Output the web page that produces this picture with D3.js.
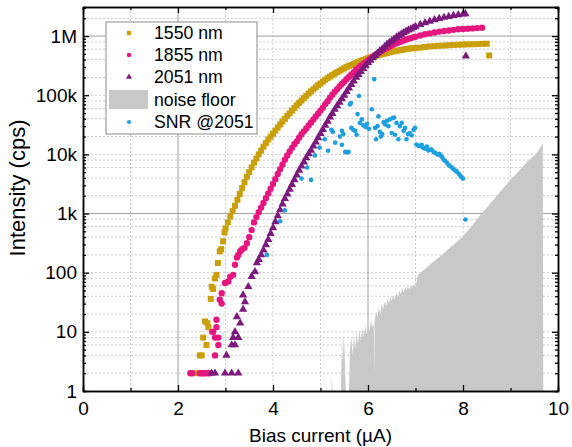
<!DOCTYPE html>
<html>
<head>
<meta charset="utf-8">
<script src="https://cdn.jsdelivr.net/npm/d3@7"></script>
<style>
  body { margin: 0; background: #fff; }
  text { font-family: Arial, "Liberation Sans", sans-serif; fill: #000; }
</style>
</head>
<body>
<svg width="572" height="447"></svg>
<script>
// axis ticks and labels
var xTicks = [0, 2, 4, 6, 8, 10];
var xMinorTicks = [1, 3, 5, 7, 9];
var yTicks = [1, 10, 100, 1e3, 1e4, 1e5, 1e6];
var yTickLabels = ["1", "10", "100", "1k", "10k", "100k", "1M"];
var legendNames = ["1550 nm", "1855 nm", "2051 nm", "noise floor", "SNR @2051"];

// [bias current (uA), intensity (cps)]
var nm1550 = [[2.39,2],[2.46,4],[2.50,4],[2.53,8],[2.57,15],[2.60,6],[2.62,14],[2.64,12],[2.69,36],[2.71,58],[2.74,53],[2.78,80],[2.81,92],[2.84,146],[2.88,230],[2.91,250],[2.95,340],[2.98,480],
  [3.00,562],[3.05,708],[3.10,891],[3.15,1100],[3.20,1350],[3.25,1700],[3.30,2140],[3.35,2690],[3.40,3390],[3.45,4170],[3.50,5010],[3.55,6030],[3.60,7240],[3.65,8510],[3.70,10000],[3.75,11600],[3.80,13500],[3.85,15500],[3.90,17800],[3.95,20000],
  [4.00,22400],[4.05,25100],[4.10,28500],[4.15,32000],[4.20,35900],[4.25,39800],[4.30,44700],[4.35,49500],[4.40,55000],[4.45,61000],[4.50,67600],[4.55,74100],[4.60,81300],[4.65,89100],[4.70,97700],[4.75,107000],[4.80,116000],[4.85,126000],[4.90,136000],[4.95,148000],
  [5.00,158000],[5.05,170000],[5.10,182000],[5.15,195000],[5.20,207000],[5.25,219000],[5.30,232000],[5.35,245000],[5.40,257000],[5.45,272000],[5.50,285000],[5.55,299000],[5.60,313000],[5.65,324000],[5.70,339000],[5.75,355000],[5.80,367000],[5.85,380000],[5.90,394000],[5.95,407000],
  [6.00,422000],[6.05,437000],[6.10,447000],[6.15,457000],[6.20,473000],[6.25,484000],[6.30,496000],[6.35,507000],[6.40,519000],[6.45,531000],[6.50,543000],[6.55,553000],[6.60,562000],[6.65,573000],[6.70,582000],[6.75,592000],[6.80,603000],[6.85,610000],[6.90,617000],[6.95,624000],
  [7.00,631000],[7.10,638000],[7.20,653000],[7.30,668000],[7.40,676000],[7.50,685000],[7.60,692000],[7.70,700000],[7.80,708000],[7.90,714000],[8.00,720000],[8.10,724000],[8.20,728000],[8.30,732000],[8.40,738000],[8.50,742000],[8.55,470000]];

var nm1855 = [[2.26,2],[2.30,2],[2.46,2],[2.50,2],[2.53,2],[2.57,2],[2.62,2],[2.67,2],[2.72,10],[2.74,10],[2.78,4],[2.78,8],[2.81,12],[2.81,16],[2.85,6],[2.85,8],[2.88,35],[2.92,30],[2.92,45],[2.99,67],[3.06,71],[3.10,85],[3.16,92],[3.20,136],[3.24,180],[3.27,200],[3.31,230],[3.35,250],
  [3.40,263],[3.45,316],[3.50,398],[3.55,525],[3.60,708],[3.65,871],[3.70,1050],[3.75,1260],[3.80,1510],[3.85,1820],[3.90,2190],[3.95,2630],
  [4.00,3160],[4.05,3800],[4.10,4680],[4.15,5620],[4.20,6760],[4.25,8130],[4.30,9550],[4.35,11200],[4.40,12900],[4.45,14800],[4.50,16600],[4.55,19100],[4.60,21900],[4.65,24500],[4.70,27500],[4.75,30900],[4.80,34700],[4.85,38900],[4.90,43700],[4.95,49000],
  [5.00,55000],[5.05,61700],[5.10,70800],[5.15,79400],[5.20,91200],[5.25,102000],[5.30,115000],[5.35,126000],[5.40,141000],[5.45,155000],[5.50,170000],[5.55,186000],[5.60,204000],[5.65,224000],[5.70,245000],[5.75,269000],[5.80,288000],[5.85,316000],[5.90,339000],[5.95,363000],
  [6.00,389000],[6.05,417000],[6.10,447000],[6.15,479000],[6.20,507000],[6.25,537000],[6.30,569000],[6.35,603000],[6.40,631000],[6.45,661000],[6.50,692000],[6.55,724000],[6.60,759000],[6.65,785000],[6.70,813000],[6.75,841000],[6.80,871000],[6.85,898000],[6.90,925000],[6.95,951000],
  [7.00,977000],[7.10,1023000],[7.20,1072000],[7.30,1109000],[7.40,1148000],[7.50,1189000],[7.60,1216000],[7.70,1245000],[7.80,1274000],[7.90,1303000],[8.00,1318000],[8.10,1334000],[8.20,1349000],[8.30,1365000],[8.40,1380000]];

var nm2051 = [[2.71,2],[2.78,2],[2.99,2],[3.13,2],[3.27,2],[3.02,4],[3.13,6],[3.20,6],[3.16,8],[3.27,8],[3.20,10],[3.31,14],[3.24,18],[3.37,24],[3.41,32],[3.37,42],[3.48,58],[3.55,86],[3.62,104],[3.66,146],
  [3.70,166],[3.75,200],[3.80,240],[3.85,295],[3.90,363],[3.95,457],
  [4.00,575],[4.05,724],[4.10,912],[4.15,1150],[4.20,1450],[4.25,1780],[4.30,2140],[4.35,2570],[4.40,3090],[4.45,3720],[4.50,4470],[4.55,5370],[4.60,6310],[4.65,7410],[4.70,8710],[4.75,10200],[4.80,11700],[4.85,13800],[4.90,16200],[4.95,19100],
  [5.00,22400],[5.05,26300],[5.10,30900],[5.15,36300],[5.20,42700],[5.25,49000],[5.30,57500],[5.35,66100],[5.40,75900],[5.45,87100],[5.50,100000],[5.55,115000],[5.60,132000],[5.65,151000],[5.70,174000],[5.75,200000],[5.80,224000],[5.85,251000],[5.90,282000],[5.95,316000],
  [6.00,355000],[6.05,389000],[6.10,427000],[6.15,468000],[6.20,513000],[6.25,562000],[6.30,603000],[6.35,661000],[6.40,724000],[6.45,776000],[6.50,832000],[6.55,891000],[6.60,955000],[6.65,1023000],[6.70,1072000],[6.75,1148000],[6.80,1202000],[6.85,1259000],[6.90,1318000],[6.95,1380000],
  [7.00,1445000],[7.10,1567000],[7.20,1679000],[7.30,1778000],[7.40,1884000],[7.50,1972000],[7.60,2065000],[7.70,2138000],[7.80,2213000],[7.90,2291000],[8.00,2344000],[8.05,2371000],[8.06,460000]];

var snr2051 = [[3.87,200],[4.15,740],[4.25,1130],[4.60,3900],[4.80,3700],[4.72,6000],[4.88,9600],[4.98,13000],[5.09,18000],[5.16,11500],[5.23,26000],[5.26,24000],[5.31,15800],[5.41,20000],[5.45,25000],[5.48,22000],[5.45,14500],[5.52,11000],[5.56,10800],[5.59,11000],
  [5.62,70000],[5.64,74000],[5.65,28000],[5.69,26000],[5.73,25000],[5.76,21500],[5.78,48000],[5.81,97000],[5.83,34000],[5.87,39000],[5.90,31000],[5.95,29000],[5.98,33000],[6.02,27000],[6.08,58000],[6.13,187000],[6.15,28000],[6.17,18000],[6.20,30000],[6.22,44000],
  [6.25,24000],[6.27,20000],[6.30,22000],[6.33,35000],[6.36,32000],[6.40,37000],[6.43,30000],[6.46,39000],[6.50,23000],[6.52,41000],[6.55,42000],[6.57,21500],[6.60,34000],[6.64,18000],[6.67,30000],[6.71,34000],[6.75,25000],[6.78,28000],[6.81,18000],[6.84,22000],
  [6.88,23000],[6.92,21000],[6.96,26000],[6.99,28000],[7.02,14700],[7.06,14000],[7.09,13700],[7.13,14500],[7.16,13000],[7.20,12500],[7.24,13500],[7.27,11600],[7.31,12000],[7.34,12000],[7.38,11000],[7.42,10500],[7.46,10000],[7.50,10200],[7.53,9500],[7.56,9000],
  [7.59,8200],[7.62,7800],[7.66,7200],[7.70,6600],[7.73,6300],[7.77,6000],[7.80,5600],[7.84,5300],[7.87,5100],[7.91,4700],[7.94,4400],[7.97,4100],[8.00,3900],[8.05,790]];

var noiseFloor = [[5.20,1],[5.23,1],[5.24,2],[5.25,1],[5.43,1],[5.45,8],[5.47,3],[5.49,10],[5.51,4],[5.53,1],[5.60,1],[5.62,5],[5.65,8],[5.68,4],[5.70,9],[5.73,5],[5.76,10],[5.79,6],[5.82,11],[5.85,7],[5.88,12],[5.91,8],[5.94,13],[5.97,9],
  [6.00,14],[6.03,10],[6.06,16],[6.09,12],[6.12,14],[6.13,2],[6.14,15],[6.17,22],[6.20,18],[6.23,26],[6.26,20],[6.29,30],[6.32,24],[6.35,33],[6.38,27],[6.41,36],[6.44,30],[6.47,40],[6.50,33],[6.53,42],[6.56,36],[6.60,46],[6.63,38],[6.66,50],[6.69,43],[6.72,55],
  [6.75,46],[6.78,58],[6.81,50],[6.84,60],[6.87,52],[6.90,62],[6.93,55],[6.96,64],[7.00,58],[7.03,75],[7.05,92],[7.10,98],[7.15,108],[7.20,115],[7.25,125],[7.30,135],[7.35,148],[7.40,158],[7.45,170],[7.50,185],[7.55,200],[7.60,218],[7.65,236],[7.70,256],
  [7.75,276],[7.80,298],[7.85,322],[7.90,350],[7.95,380],[8.00,410],[8.05,460],[8.10,510],[8.15,570],[8.20,640],[8.25,720],[8.30,810],[8.35,910],[8.40,1020],[8.45,1130],[8.50,1250],[8.55,1400],[8.60,1560],[8.65,1740],[8.70,1950],[8.75,2180],[8.80,2430],
  [8.85,2700],[8.90,3000],[8.95,3300],[9.00,3650],[9.05,4050],[9.10,4500],[9.15,5000],[9.20,5550],[9.25,6100],[9.30,6700],[9.35,7400],[9.40,8100],[9.45,8800],[9.50,9500],[9.55,10600],[9.60,12000],[9.65,13800],[9.68,15700],[9.69,1]];

var svg = d3.select("svg"),
  margin = {top: 7, right: 14, bottom: 56, left: 83},
  width = +svg.attr("width") - margin.left - margin.right,
  height = +svg.attr("height") - margin.top - margin.bottom;

var x = d3.scaleLinear().domain([0, 10]).range([0, width]),
  y = d3.scaleLog().domain([1, 3.1e6]).range([height, 0]);

var g = svg.append("g")
  .attr("transform", "translate(" + margin.left + "," + margin.top + ")");

// minor log values for ticks and grid
var yMinor = [], yGridMinor = [];
d3.range(0, 7).forEach(function(p) {
  d3.range(2, 10).forEach(function(k) {
    var v = k * Math.pow(10, p);
    if (v < 3.1e6) yMinor.push(v);
    if (v < 3.1e6 && k % 2 === 0) yGridMinor.push(v);
  });
});

// grid
var dotted = yGridMinor.concat([10, 100, 1e4, 1e5]);
g.append("g").selectAll("line")
  .data(dotted)
  .enter().append("line")
  .attr("x1", 0).attr("x2", width)
  .attr("y1", function(d) { return y(d); })
  .attr("y2", function(d) { return y(d); })
  .attr("stroke", "#bdbdbd").attr("stroke-width", 0.8)
  .attr("stroke-dasharray", "2,2");

g.append("g").selectAll("line")
  .data([1, 3, 4, 5, 7, 8, 9])
  .enter().append("line")
  .attr("x1", function(d) { return x(d); })
  .attr("x2", function(d) { return x(d); })
  .attr("y1", 0).attr("y2", height)
  .attr("stroke", "#bdbdbd").attr("stroke-width", 0.8)
  .attr("stroke-dasharray", "2,2");

g.append("g").selectAll("line")
  .data([1e3, 1e6])
  .enter().append("line")
  .attr("x1", 0).attr("x2", width)
  .attr("y1", function(d) { return y(d); })
  .attr("y2", function(d) { return y(d); })
  .attr("stroke", "#a0a0a0").attr("stroke-width", 1);

g.append("g").selectAll("line")
  .data([2, 6])
  .enter().append("line")
  .attr("x1", function(d) { return x(d); })
  .attr("x2", function(d) { return x(d); })
  .attr("y1", 0).attr("y2", height)
  .attr("stroke", "#a0a0a0").attr("stroke-width", 1);

// noise floor
var area = d3.area()
  .x(function(d) { return x(d[0]); })
  .y0(height)
  .y1(function(d) { return y(Math.max(d[1], 1)); });

g.append("path")
  .datum(noiseFloor)
  .attr("fill", "#c8c8c8")
  .attr("d", area);

// scatter series
var series = [
  {data: nm1550, color: "#c9a00c", sym: d3.symbolSquare, size: 36},
  {data: nm1855, color: "#e5177f", sym: d3.symbolCircle, size: 32},
  {data: nm2051, color: "#7a1a7c", sym: d3.symbolTriangle, size: 30},
  {data: snr2051, color: "#1ea0e0", sym: d3.symbolCircle, size: 17}
];

series.forEach(function(s) {
  g.append("g").selectAll("path")
    .data(s.data)
    .enter().append("path")
    .attr("transform", function(d) {
      return "translate(" + x(d[0]) + "," + y(d[1]) + ")";
    })
    .attr("d", d3.symbol().type(s.sym).size(s.size))
    .attr("fill", s.color);
});

// axes
function styleAxis(sel) {
  sel.selectAll("path.domain").attr("stroke", "#000").attr("stroke-width", 1.5);
  sel.selectAll("line").attr("stroke", "#000").attr("stroke-width", 1.3);
  sel.selectAll("text").attr("font-size", 19).attr("font-family", "Arial, 'Liberation Sans', sans-serif");
}

g.append("g")
  .attr("transform", "translate(0," + height + ")")
  .call(d3.axisBottom(x).tickValues(xMinorTicks).tickSize(-3).tickFormat(""))
  .call(styleAxis);
g.append("g")
  .attr("transform", "translate(0," + height + ")")
  .call(d3.axisBottom(x).tickValues(xTicks).tickSize(-6).tickSizeOuter(0).tickPadding(11))
  .call(styleAxis);

g.append("g")
  .call(d3.axisTop(x).tickValues(xMinorTicks).tickSize(-3).tickFormat(""))
  .call(styleAxis);
g.append("g")
  .call(d3.axisTop(x).tickValues(xTicks).tickSize(-6).tickSizeOuter(0).tickFormat(""))
  .call(styleAxis);

g.append("g")
  .call(d3.axisLeft(y).tickValues(yMinor).tickSize(-3).tickFormat(""))
  .call(styleAxis);
g.append("g")
  .call(d3.axisLeft(y).tickValues(yTicks).tickSize(-6).tickSizeOuter(0).tickPadding(6)
    .tickFormat(function(d, i) { return yTickLabels[i]; }))
  .call(styleAxis);

g.append("g")
  .attr("transform", "translate(" + width + ",0)")
  .call(d3.axisRight(y).tickValues(yMinor).tickSize(-3).tickFormat(""))
  .call(styleAxis);
g.append("g")
  .attr("transform", "translate(" + width + ",0)")
  .call(d3.axisRight(y).tickValues(yTicks).tickSize(-6).tickSizeOuter(0).tickFormat(""))
  .call(styleAxis);

// axis titles
g.append("text")
  .attr("x", width / 2)
  .attr("y", height + 51)
  .attr("text-anchor", "middle")
  .attr("font-size", 19)
  .text("Bias current (\u00b5A)");

g.append("text")
  .attr("transform", "translate(" + (25 - margin.left) + "," + (188 - margin.top) + ") rotate(-90)")
  .attr("text-anchor", "middle")
  .attr("font-size", 22)
  .text("Intensity (cps)");

// legend
var legend = svg.append("g").attr("transform", "translate(106,22)");
legend.append("rect")
  .attr("width", 151).attr("height", 112)
  .attr("fill", "#fff").attr("stroke", "#8a8a8a").attr("stroke-width", 1);

var rowY = [11, 33, 55, 78, 100];
var legendSyms = [
  {color: "#c9a00c", sym: d3.symbolSquare, size: 18},
  {color: "#e5177f", sym: d3.symbolCircle, size: 16},
  {color: "#7a1a7c", sym: d3.symbolTriangle, size: 16},
  null,
  {color: "#1ea0e0", sym: d3.symbolCircle, size: 14}
];
legendNames.forEach(function(name, i) {
  var s = legendSyms[i];
  if (s) {
    legend.append("path")
      .attr("transform", "translate(23," + rowY[i] + ")")
      .attr("d", d3.symbol().type(s.sym).size(s.size))
      .attr("fill", s.color);
  } else {
    legend.append("rect")
      .attr("x", 3).attr("y", rowY[i] - 10)
      .attr("width", 39).attr("height", 19)
      .attr("fill", "#c8c8c8");
  }
  legend.append("text")
    .attr("x", 48)
    .attr("y", rowY[i])
    .attr("dy", "0.35em")
    .attr("font-size", 17.7)
    .text(name);
});
</script>
</body>
</html>
